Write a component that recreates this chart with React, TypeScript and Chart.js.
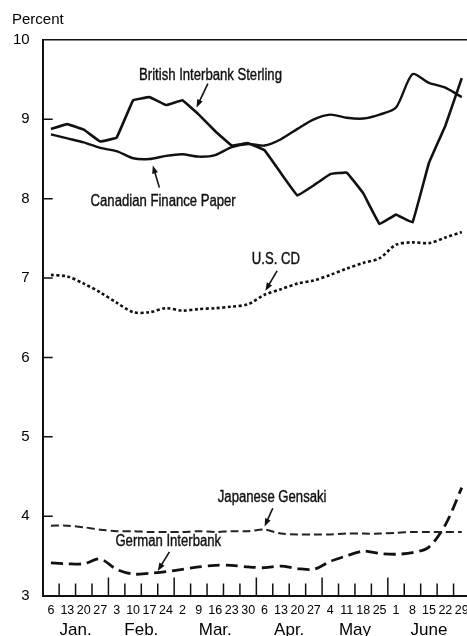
import React, { useEffect, useRef } from 'react';
import { Chart, registerables } from 'chart.js';

Chart.register(...registerables);

// ---- data ----
const days = ['6', '13', '20', '27', '3', '10', '17', '24', '2', '9', '16', '23', '30', '6', '13', '20', '27', '4', '11', '18', '25', '1', '8', '15', '22', '29'];
const monthNames = ['Jan.', 'Feb.', 'Mar.', 'Apr.', 'May', 'June'];
const monthWeeks = [4, 4, 5, 4, 4, 5];
const yTickValues = [3, 4, 5, 6, 7, 8, 9, 10];

const britishInterbank = [8.88, 8.94, 8.87, 8.72, 8.77, 9.24, 9.28, 9.18, 9.24, 9.06, 8.85, 8.67, 8.70, 8.61, 8.32, 8.04, 8.17, 8.31, 8.33, 8.07, 7.68, 7.80, 7.70, 8.45, 8.92, 9.52];
const canadianPaper = [8.81, 8.76, 8.71, 8.64, 8.60, 8.51, 8.50, 8.54, 8.56, 8.53, 8.55, 8.65, 8.69, 8.67, 8.75, 8.88, 9.00, 9.06, 9.02, 9.01, 9.06, 9.15, 9.57, 9.46, 9.40, 9.28];
const usCD = [7.04, 7.02, 6.93, 6.82, 6.69, 6.57, 6.57, 6.62, 6.59, 6.61, 6.62, 6.64, 6.67, 6.79, 6.86, 6.93, 6.97, 7.04, 7.12, 7.19, 7.25, 7.42, 7.45, 7.44, 7.51, 7.58];
const japaneseGensaki = [3.88, 3.88, 3.86, 3.83, 3.81, 3.81, 3.80, 3.80, 3.80, 3.81, 3.80, 3.81, 3.81, 3.83, 3.78, 3.77, 3.77, 3.77, 3.78, 3.78, 3.78, 3.79, 3.80, 3.80, 3.80, 3.80];
const germanInterbank = [3.41, 3.40, 3.40, 3.46, 3.33, 3.27, 3.28, 3.30, 3.33, 3.36, 3.38, 3.38, 3.36, 3.35, 3.37, 3.34, 3.33, 3.43, 3.50, 3.56, 3.53, 3.52, 3.54, 3.61, 3.89, 4.36];

// series labels, anchored in data units (week index, percent)
const seriesLabels = [
  { text: 'British Interbank Sterling', tx: 9.71, ty: 9.55, ax: 9.55, ay: 9.45, bx: 8.86, by: 9.15 },
  { text: 'Canadian Finance Paper', tx: 6.83, ty: 7.96, ax: 6.6, ay: 8.14, bx: 6.2, by: 8.42 },
  { text: 'U.S. CD', tx: 13.69, ty: 7.23, ax: 13.76, ay: 7.09, bx: 13.05, by: 6.84 },
  { text: 'Japanese Gensaki', tx: 13.46, ty: 4.24, ax: 13.5, ay: 4.1, bx: 13.0, by: 3.87 },
  { text: 'German Interbank', tx: 7.14, ty: 3.68, ax: 7.21, ay: 3.55, bx: 6.5, by: 3.31 },
];

const SANS = '"Liberation Sans", Arial, Helvetica, sans-serif';

// month boundaries (index after which a month ends)
const monthEndIdx: number[] = [];
{
  let acc = 0;
  for (const w of monthWeeks) { acc += w; monthEndIdx.push(acc - 1); }
}
const monthCenters: number[] = [];
{
  let start = 0;
  for (const w of monthWeeks) { monthCenters.push(start + (w - 1) / 2); start += w; }
}

const axisMarksPlugin = {
  id: 'axisMarks',
  afterDraw(chart: any) {
    const { ctx, chartArea, scales } = chart;
    const x = scales.x;
    const y = scales.y;
    ctx.save();
    ctx.strokeStyle = '#111';
    ctx.lineWidth = 1.5;
    ctx.beginPath();
    for (let i = 0; i < days.length - 1; i++) {
      const px = (x.getPixelForValue(i) + x.getPixelForValue(i + 1)) / 2;
      const len = monthEndIdx.includes(i) ? 18 : 12;
      ctx.moveTo(px, chartArea.bottom);
      ctx.lineTo(px, chartArea.bottom - len);
    }
    for (const v of yTickValues) {
      if (v <= 3 || v >= 10) continue;
      const py = y.getPixelForValue(v);
      ctx.moveTo(chartArea.left, py);
      ctx.lineTo(chartArea.left + 10, py);
    }
    ctx.stroke();
    ctx.restore();
  },
};

const seriesLabelPlugin = {
  id: 'seriesLabels',
  afterDatasetsDraw(chart: any) {
    const { ctx, scales } = chart;
    const x = scales.x2;
    const y = scales.y;
    ctx.save();
    ctx.fillStyle = '#111';
    ctx.strokeStyle = '#111';
    ctx.font = `16px ${SANS}`;
    ctx.textAlign = 'center';
    ctx.textBaseline = 'middle';
    for (const a of seriesLabels) {
      ctx.save();
      ctx.translate(x.getPixelForValue(a.tx), y.getPixelForValue(a.ty));
      ctx.scale(0.82, 1);
      ctx.lineWidth = 0.4;
      ctx.fillText(a.text, 0, 0);
      ctx.strokeText(a.text, 0, 0);
      ctx.restore();
      const x1 = x.getPixelForValue(a.ax);
      const y1 = y.getPixelForValue(a.ay);
      const x2 = x.getPixelForValue(a.bx);
      const y2 = y.getPixelForValue(a.by);
      const ang = Math.atan2(y2 - y1, x2 - x1);
      const head = 8;
      ctx.lineWidth = 1.6;
      ctx.beginPath();
      ctx.moveTo(x1, y1);
      ctx.lineTo(x2 - Math.cos(ang) * head * 0.7, y2 - Math.sin(ang) * head * 0.7);
      ctx.stroke();
      ctx.beginPath();
      ctx.moveTo(x2, y2);
      ctx.lineTo(x2 - head * Math.cos(ang) + 3 * Math.sin(ang), y2 - head * Math.sin(ang) - 3 * Math.cos(ang));
      ctx.lineTo(x2 - head * Math.cos(ang) - 3 * Math.sin(ang), y2 - head * Math.sin(ang) + 3 * Math.cos(ang));
      ctx.closePath();
      ctx.fill();
    }
    ctx.restore();
  },
};

export default function App() {
  const ref = useRef<HTMLCanvasElement | null>(null);

  useEffect(() => {
    document.documentElement.style.overflow = 'hidden';
    document.body.style.margin = '0';
    document.body.style.overflow = 'hidden';
    const canvas = ref.current;
    if (!canvas) return;
    const chart = new Chart(canvas, {
      type: 'line',
      data: {
        labels: days,
        datasets: [
          { label: 'British Interbank Sterling', data: britishInterbank, borderColor: '#111', borderWidth: 2.6, tension: 0.05, pointRadius: 0 },
          { label: 'Canadian Finance Paper', data: canadianPaper, borderColor: '#111', borderWidth: 2.4, tension: 0.25, pointRadius: 0 },
          { label: 'U.S. CD', data: usCD, borderColor: '#111', borderWidth: 2.6, borderDash: [3, 2.5], tension: 0.3, pointRadius: 0 },
          { label: 'Japanese Gensaki', data: japaneseGensaki, borderColor: '#222', borderWidth: 2, borderDash: [8, 4], tension: 0.3, pointRadius: 0 },
          { label: 'German Interbank', data: germanInterbank, borderColor: '#111', borderWidth: 2.8, borderDash: [12, 6], tension: 0.3, pointRadius: 0 },
        ],
      },
      options: {
        responsive: false,
        animation: false,
        events: [],
        layout: { padding: { left: 12, right: 10, top: 0, bottom: 0 } },
        plugins: {
          legend: { display: false },
          tooltip: { enabled: false },
          title: {
            display: true,
            text: 'Percent',
            align: 'start',
            color: '#000',
            font: { family: SANS, size: 15, weight: 'normal' },
            padding: { top: 11, bottom: 11 },
          },
        },
        scales: {
          x: {
            type: 'category',
            offset: true,
            weight: 0,
            grid: { display: true, drawOnChartArea: false, drawTicks: false, offset: true },
            border: { display: true, color: '#111', width: 2 },
            ticks: {
              autoSkip: false,
              maxRotation: 0,
              minRotation: 0,
              padding: 8,
              color: '#000',
              font: { family: SANS, size: 12.5 },
            },
            afterFit: (s: any) => { s.height = 22; },
          },
          x2: {
            type: 'linear',
            position: 'bottom',
            weight: 1,
            min: -0.5,
            max: days.length - 0.5,
            grid: { display: false },
            border: { display: false },
            afterBuildTicks: (s: any) => { s.ticks = monthCenters.map((v) => ({ value: v })); },
            ticks: {
              autoSkip: false,
              maxRotation: 0,
              padding: -5,
              color: '#000',
              font: { family: SANS, size: 17 },
              callback: (_v: any, i: number) => monthNames[i],
            },
            afterFit: (s: any) => { s.height = 18.5; },
          },
          y: {
            type: 'linear',
            min: 3,
            max: 10,
            afterBuildTicks: (s: any) => { s.ticks = yTickValues.map((v) => ({ value: v })); },
            grid: {
              drawTicks: false,
              color: (c: any) => (c.tick && c.tick.value === 10 ? '#111' : 'rgba(0,0,0,0)'),
              lineWidth: 1.5,
            },
            border: { display: true, color: '#111', width: 2 },
            ticks: {
              padding: 13,
              color: '#000',
              font: { family: SANS, size: 15 },
            },
            afterFit: (s: any) => { s.width = 30.7; },
          },
        },
      },
      plugins: [axisMarksPlugin, seriesLabelPlugin],
    });
    return () => chart.destroy();
  }, []);

  return (
    <div style={{ width: 480, height: 636, overflow: 'hidden' }}>
      <canvas ref={ref} width={480} height={636} style={{ display: 'block', width: 480, height: 636 }} />
    </div>
  );
}
